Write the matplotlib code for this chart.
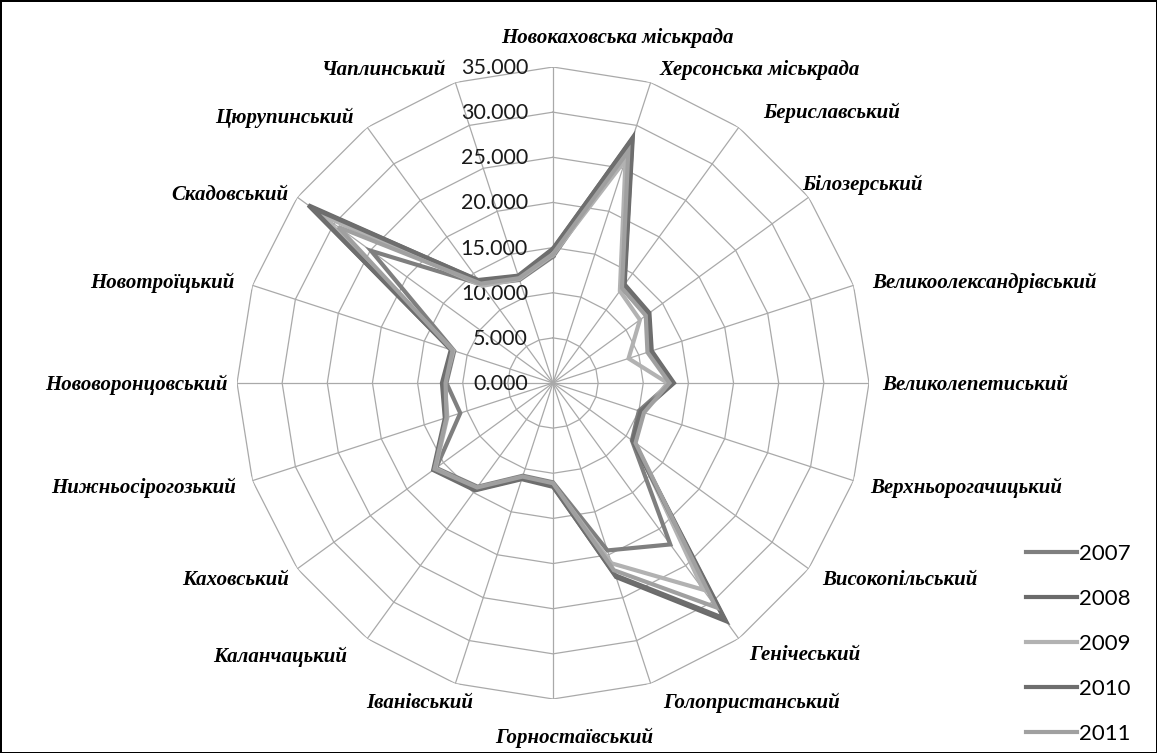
import numpy as np
import matplotlib
matplotlib.use('Agg')
import matplotlib.pyplot as plt
import matplotlib.transforms as mtrans

#%%
# Districts (clockwise from the top)
districts = ['Новокаховська міськрада', 'Херсонська міськрада', 'Бериславський',
             'Білозерський', 'Великоолександрівський', 'Великолепетиський',
             'Верхньорогачицький', 'Високопільський', 'Генічеський',
             'Голопристанський', 'Горностаївський', 'Іванівський',
             'Каланчацький', 'Каховський', 'Нижньосірогозький',
             'Нововоронцовський', 'Новотроїцький', 'Скадовський',
             'Цюрупинський', 'Чаплинський']

years = ['2007', '2008', '2009', '2010', '2011']

v2007 = [14.0, 27.5, 13.0, 12.8, 11.2, 13.0, 10.0, 10.8, 22.1, 19.5,
         11.0, 10.8, 14.2, 16.0, 10.8, 11.8, 11.5, 24.9, 13.5, 12.0]
v2008 = [14.8, 28.6, 13.5, 13.2, 11.5, 13.4, 10.3, 11.0, 32.6, 22.6,
         11.4, 11.1, 14.6, 16.3, 12.5, 12.2, 11.8, 33.5, 14.0, 12.4]
v2009 = [14.2, 26.0, 12.6, 11.9, 8.8, 12.7, 10.5, 11.2, 28.3, 21.0,
         11.2, 11.0, 14.4, 16.1, 12.3, 12.0, 11.6, 31.6, 13.3, 12.1]
v2010 = [14.9, 28.4, 13.4, 13.1, 11.4, 13.3, 10.2, 10.9, 32.2, 22.4,
         11.5, 11.2, 14.7, 16.4, 12.6, 12.3, 11.9, 33.0, 14.1, 12.5]
v2011 = [14.3, 27.0, 13.0, 12.7, 11.0, 12.9, 10.6, 11.3, 30.7, 21.8,
         11.1, 10.9, 14.3, 16.2, 12.4, 11.9, 11.7, 29.4, 13.6, 12.2]

r_ticks = [0, 5, 10, 15, 20, 25, 30, 35]
r_tick_labels = ['0.000', '5.000', '10.000', '15.000', '20.000', '25.000', '30.000', '35.000']

#%%
W, H = 1157, 753
fig = plt.figure(figsize=(W / 100, H / 100), dpi=100, facecolor='white',
                 edgecolor='black', linewidth=2)

cx, cy, R = 553, 383, 316
ax = fig.add_axes([(cx - R) / W, (H - cy - R) / H, 2 * R / W, 2 * R / H], projection='polar')
ax.set_theta_zero_location('N')
ax.set_theta_direction(-1)
ax.set_ylim(0, 35)
ax.grid(False)
ax.spines['polar'].set_visible(False)
ax.set_xticks([])
ax.set_yticks([])
ax.patch.set_alpha(0)

n = len(districts)
theta = np.arange(n) * 2 * np.pi / n
theta_c = np.append(theta, theta[0])

grid_col = '#a9a9a9'
# polygon rings
for r in r_ticks[1:]:
    ax.plot(theta_c, [r] * (n + 1), color=grid_col, lw=0.9, zorder=1)
# spokes
for th in theta:
    ax.plot([th, th], [0, 35], color=grid_col, lw=0.9, zorder=1)

series = [v2007, v2008, v2009, v2010, v2011]
colors = ['#7f7f7f', '#6b6b6b', '#b2b2b2', '#6e6e6e', '#a0a0a0']
for vals, col, yr in zip(series, colors, years):
    ax.plot(theta_c, vals + vals[:1], color=col, lw=3, label=yr, zorder=3,
            solid_joinstyle='miter')

# radial value labels, left of the top spoke
off = mtrans.offset_copy(ax.transData, fig=fig, x=-25, y=-1, units='dots')
for r, lab in zip(r_ticks, r_tick_labels):
    ax.text(0, r, lab, transform=off, ha='right', va='center',
            fontsize=15.5, family='Lato', color='#1a1a1a', zorder=2)

# category labels (pixel centres)
label_xy = [(617, 38), (760, 70), (832, 113), (862, 185), (984, 283),
            (975, 385), (966, 488), (900, 580), (805, 655), (752, 703),
            (574, 738), (420, 703), (280, 657), (236, 580), (144, 488),
            (136, 385), (162, 283), (230, 195), (284, 118), (383, 70)]
for name, (x, y) in zip(districts, label_xy):
    fig.text(x / W, 1 - y / H, name, ha='center', va='center',
             fontsize=15, family='Liberation Serif', weight='bold',
             style='italic', color='black')

leg = fig.legend(loc='upper left', bbox_to_anchor=(1015 / W, 1 - 533 / H),
                 frameon=False, handlelength=2.3,
                 handletextpad=0.1, labelspacing=1.12, borderpad=0,
                 prop={'family': 'Lato', 'size': 16})

fig.savefig('out.png', dpi=100, facecolor='white', edgecolor='black')
